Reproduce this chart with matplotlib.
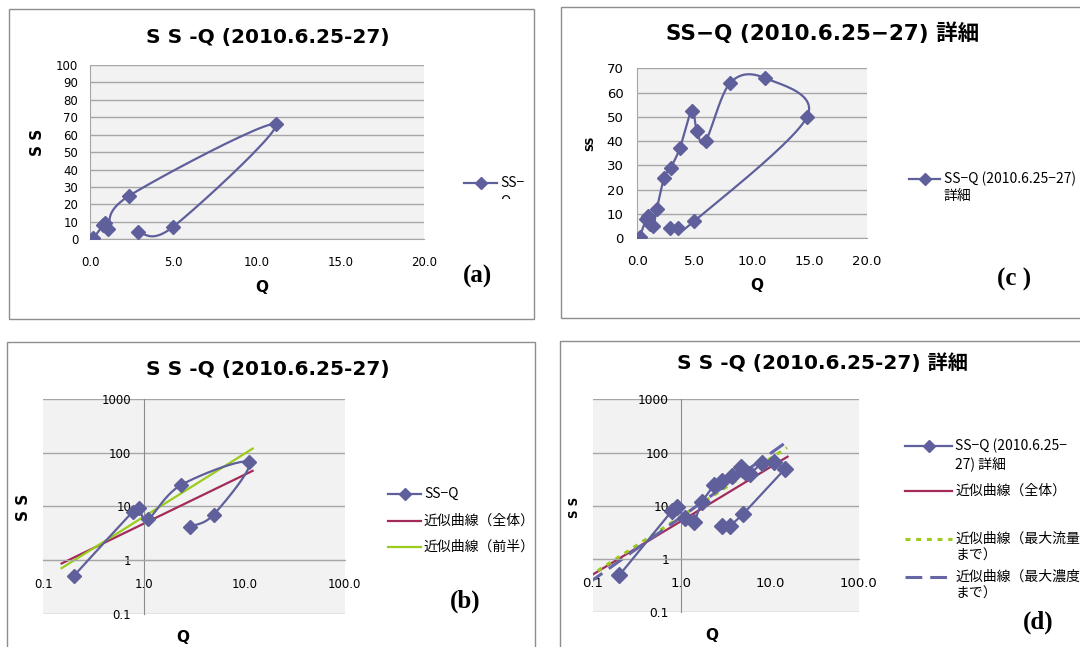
import numpy as np
import matplotlib
matplotlib.use('Agg')
import matplotlib.pyplot as plt
from matplotlib.lines import Line2D
from matplotlib.patches import Rectangle
from matplotlib.transforms import Affine2D, Bbox
import matplotlib.ticker as mticker

# ---------------- data ----------------
# (a)/(b): sampled SS-Q points (2010.6.25-27)
q_a = [0.2, 0.78, 0.9, 1.1, 2.35, 11.1, 4.95, 2.85]
ss_a = [0.5, 8.0, 9.3, 5.8, 25.0, 66.0, 7.0, 4.2]

# (c)/(d): detailed SS-Q points
q_c = [0.2, 0.78, 0.9, 1.1, 1.4, 1.7, 2.35, 2.9, 3.7, 4.75, 5.2, 5.95,
       8.1, 11.1, 14.8, 4.95, 3.55, 2.85]
ss_c = [0.5, 8.0, 9.3, 5.8, 5.0, 12.0, 25.0, 29.0, 37.0, 52.5, 44.0, 40.0,
        64.0, 66.0, 50.0, 7.0, 4.2, 4.2]

# index ranges used for trend fits
n_first_half_b = 6      # up to the SS maximum in (b)
n_to_max_flow = 15      # up to max Q in (d)
n_to_max_conc = 14      # up to max SS in (d)

# x extents of the drawn trend lines
trend_ext_b = (0.152, 12.1)
trend_ext_d_all = (0.09, 15.7)
trend_ext_d_flow = (0.09, 15.5)
trend_ext_d_conc = (0.09, 14.4)

lin_xticks = [0, 5, 10, 15, 20]
lin_yticks_a = list(range(0, 101, 10))
lin_yticks_c = list(range(0, 71, 10))
log_xticks = [0.1, 1, 10, 100]
log_yticks = [0.1, 1, 10, 100, 1000]

# ---------------- style ----------------
W, H = 1080, 647
plt.rcParams['font.family'] = ['DejaVu Sans', 'Noto Sans CJK JP']
JP = ['Noto Sans CJK JP', 'DejaVu Sans']
C_SER = '#5F5F9C'
C_RED = '#A32B5B'
C_GRN = '#9BCB1C'
C_GRID = '#A6A6A6'
C_BG = '#F2F2F2'
C_BORDER = '#8E8E8E'

fig = plt.figure(figsize=(W / 100, H / 100), dpi=100)
PX = Affine2D().scale(1 / W, -1 / H).translate(0, 1) + fig.transFigure


def add_ax(x0, y0, x1, y1):
    return fig.add_axes([x0 / W, 1 - y1 / H, (x1 - x0) / W, (y1 - y0) / H])


def txt(x, y, s, **kw):
    kw.setdefault('ha', 'center')
    kw.setdefault('va', 'center')
    return fig.text(x, y, s, transform=PX, **kw)


def border(x0, y0, x1, y1):
    fig.patches.append(Rectangle((x0, y0), x1 - x0, y1 - y0, transform=PX,
                                 fill=False, edgecolor=C_BORDER, lw=1.0))


def smooth(x, y, n=24):
    P = np.column_stack([np.asarray(x, float), np.asarray(y, float)])
    P = np.vstack([P[0], P, P[-1]])
    out = []
    t = np.linspace(0, 1, n, endpoint=False)[:, None]
    for i in range(1, len(P) - 2):
        p0, p1, p2, p3 = P[i - 1], P[i], P[i + 1], P[i + 2]
        c = 0.5 * ((2 * p1) + (-p0 + p2) * t + (2 * p0 - 5 * p1 + 4 * p2 - p3) * t ** 2
                   + (-p0 + 3 * p1 - 3 * p2 + p3) * t ** 3)
        out.append(c)
    out.append(P[-2][None])
    return np.vstack(out)


def power_fit(q, ss):
    b, a = np.polyfit(np.log10(q), np.log10(ss), 1)
    return a, b


def trend(ax, q, ss, ext, **kw):
    a, b = power_fit(q, ss)
    xs = np.geomspace(ext[0], ext[1], 50)
    ax.plot(xs, 10 ** a * xs ** b, **kw)


def style_lin(ax, xl, yl, yticks, fs, ypad, xpad):
    ax.set_facecolor(C_BG)
    ax.set_xlim(*xl)
    ax.set_ylim(*yl)
    ax.set_xticks(lin_xticks)
    ax.set_yticks(yticks)
    ax.xaxis.set_major_formatter(mticker.FormatStrFormatter('%.1f'))
    ax.yaxis.grid(True, color=C_GRID, lw=1.0)
    ax.set_axisbelow(True)
    for s in ('top', 'right'):
        ax.spines[s].set_visible(False)
    for s in ('left', 'bottom'):
        ax.spines[s].set_color(C_GRID)
    ax.tick_params(axis='y', length=0, labelsize=fs, pad=ypad)
    ax.tick_params(axis='x', length=0, labelsize=fs, pad=xpad)


def style_log(ax, xfs, yfs):
    ax.set_facecolor(C_BG)
    ax.set_xscale('log')
    ax.set_yscale('log')
    ax.set_xlim(0.1, 100)
    ax.set_ylim(0.1, 1000)
    ax.set_xticks(log_xticks)
    ax.set_yticks(log_yticks)
    ax.xaxis.set_minor_locator(mticker.NullLocator())
    ax.yaxis.set_minor_locator(mticker.NullLocator())
    ax.xaxis.set_major_formatter(mticker.FormatStrFormatter('%.1f'))
    ax.yaxis.set_major_formatter(mticker.FuncFormatter(lambda v, p: '%g' % v))
    ax.yaxis.grid(True, color=C_GRID, lw=1.0)
    ax.set_axisbelow(True)
    for s in ('top', 'right'):
        ax.spines[s].set_visible(False)
    ax.spines['left'].set_position(('data', 1.0))
    ax.spines['bottom'].set_position(('data', 1.0))
    ax.spines['left'].set_color('#8C8C8C')
    ax.spines['bottom'].set_color(C_GRID)
    ax.tick_params(axis='y', length=0, labelsize=yfs, pad=9)
    ax.tick_params(axis='x', length=0, labelsize=xfs, pad=13)
    for lab in ax.get_xticklabels() + ax.get_yticklabels():
        lab.set_clip_on(False)


def series(ax, q, ss, smooth_on=True, log=False, ms=7.5):
    if smooth_on:
        if log:
            sm = 10 ** smooth(np.log10(q), np.log10(ss))
        else:
            sm = smooth(q, ss)
        ax.plot(sm[:, 0], sm[:, 1], color=C_SER, lw=1.6, zorder=3)
    else:
        ax.plot(q, ss, color=C_SER, lw=1.6, zorder=3)
    ax.plot(q, ss, ls='none', marker='D', ms=ms, color=C_SER, zorder=4)


# ---------------- borders ----------------
border(8.6, 8.7, 534, 319)
border(561.4, 7.3, 1090, 318.3)
border(6.9, 341.7, 534.5, 660)
border(560, 340.7, 1090, 660)

TFS = 14.5
LFS = 10
PFS = 18
# ---------------- (a) ----------------
axA = add_ax(90, 65, 424.3, 239.3)
style_lin(axA, (0, 20), (0, 100), lin_yticks_a, 8.5, 8.5, 12)
series(axA, q_a, ss_a)
txt(268, 38, 'S S -Q (2010.6.25-27)', fontsize=TFS, fontweight='bold')
txt(262, 287, 'Q', fontsize=11, fontweight='bold')
txt(37, 142, 'S S', fontsize=11, fontweight='bold', rotation=90)
txt(477.6, 276, '(a)', fontsize=PFS, fontweight='bold', family='Liberation Serif')
fig.add_artist(Line2D([464, 497], [183, 183], transform=PX, color=C_SER, lw=1.6))
fig.add_artist(Line2D([480.5], [183], transform=PX, color=C_SER, marker='D', ms=6))
txt(500, 183, 'SS−', fontsize=LFS, ha='left', family=JP)
tq = txt(500, 202, 'Q', fontsize=LFS, ha='left', family=JP)
tq.set_clip_box(Bbox.from_extents(480, H - 199, 540, H - 180))
tq.set_clip_on(True)

# ---------------- (c) ----------------
axC = add_ax(637.3, 68.3, 866.7, 238.3)
style_lin(axC, (0, 20), (0, 70), lin_yticks_c, 9.5, 10, 12)
series(axC, q_c, ss_c)
txt(823, 33, 'SS−Q (2010.6.25−27) 詳細', fontsize=15.5, fontweight='bold')
txt(757, 285, 'Q', fontsize=11, fontweight='bold')
txt(590, 143, 'SS', fontsize=8, fontweight='bold', rotation=90)
txt(1014, 279, '(c )', fontsize=PFS, fontweight='bold', family='Liberation Serif')
fig.add_artist(Line2D([909, 940], [179, 179], transform=PX, color=C_SER, lw=1.6))
fig.add_artist(Line2D([924.5], [179], transform=PX, color=C_SER, marker='D', ms=6))
txt(944, 179, 'SS−Q (2010.6.25−27)', fontsize=LFS, ha='left', family=JP)
txt(944, 196, '詳細', fontsize=LFS, ha='left', family=JP)

# ---------------- (b) ----------------
axB = add_ax(43.3, 399, 344.8, 613.7)
style_log(axB, 8.5, 8.5)
series(axB, q_a, ss_a, log=True, ms=7)
trend(axB, q_a, ss_a, trend_ext_b, color=C_RED, lw=1.6, zorder=2)
trend(axB, q_a[:n_first_half_b], ss_a[:n_first_half_b], trend_ext_b,
      color=C_GRN, lw=1.6, zorder=2)
txt(268, 370, 'S S -Q (2010.6.25-27)', fontsize=TFS, fontweight='bold')
txt(183, 638, 'Q', fontsize=11, fontweight='bold')
txt(24, 507, 'S S', fontsize=11, fontweight='bold', rotation=90)
txt(465.5, 601, '(b)', fontsize=PFS, fontweight='bold', family='Liberation Serif')
fig.add_artist(Line2D([388, 421], [494, 494], transform=PX, color=C_SER, lw=1.6))
fig.add_artist(Line2D([404.5], [494], transform=PX, color=C_SER, marker='D', ms=6))
txt(424, 494, 'SS−Q', fontsize=LFS, ha='left', family=JP)
fig.add_artist(Line2D([388, 421], [521, 521], transform=PX, color=C_RED, lw=1.6))
txt(424, 521, '近似曲線（全体）', fontsize=LFS, ha='left', family=JP)
fig.add_artist(Line2D([388, 421], [546.7, 546.7], transform=PX, color=C_GRN, lw=1.6))
txt(424, 546.7, '近似曲線（前半）', fontsize=LFS, ha='left', family=JP)

# ---------------- (d) ----------------
axD = add_ax(592.7, 399.3, 858.9, 612.3)
style_log(axD, 9.5, 8.8)
series(axD, q_c, ss_c, smooth_on=False, ms=8.5)
trend(axD, q_c, ss_c, trend_ext_d_all, color=C_RED, lw=1.6, zorder=2)
trend(axD, q_c[:n_to_max_flow], ss_c[:n_to_max_flow], trend_ext_d_flow,
      color=C_GRN, lw=2.2, ls=(0, (1.6, 1.9)), zorder=2)
trend(axD, q_c[:n_to_max_conc], ss_c[:n_to_max_conc], trend_ext_d_conc,
      color='#6666A6', lw=2.2, ls=(0, (5.5, 2.6)), zorder=2)
txt(822, 363, 'S S -Q (2010.6.25-27) 詳細', fontsize=TFS, fontweight='bold')
txt(712, 635, 'Q', fontsize=11, fontweight='bold')
txt(574.5, 507, 'S S', fontsize=8.5, fontweight='bold', rotation=90)
txt(1038, 622, '(d)', fontsize=PFS, fontweight='bold', family='Liberation Serif')
fig.add_artist(Line2D([905, 951.7], [445.7, 445.7], transform=PX, color=C_SER, lw=1.6))
fig.add_artist(Line2D([929], [445.7], transform=PX, color=C_SER, marker='D', ms=6))
txt(955, 445.7, 'SS−Q (2010.6.25−', fontsize=LFS, ha='left', family=JP)
txt(955, 463.3, '27) 詳細', fontsize=LFS, ha='left', family=JP)
fig.add_artist(Line2D([905, 951.7], [490.7, 490.7], transform=PX, color=C_RED, lw=1.6))
txt(955, 490.7, '近似曲線（全体）', fontsize=LFS, ha='left', family=JP)
fig.add_artist(Line2D([905, 951.7], [538.7, 538.7], transform=PX, color=C_GRN, lw=2.2,
                      ls=(0, (1.6, 1.9))))
txt(955, 538.7, '近似曲線（最大流量', fontsize=LFS, ha='left', family=JP)
txt(955, 556, 'まで）', fontsize=LFS, ha='left', family=JP)
fig.add_artist(Line2D([905, 951.7], [576.7, 576.7], transform=PX, color='#6666A6', lw=2.2,
                      ls=(0, (5.5, 2.6))))
txt(955, 576.7, '近似曲線（最大濃度', fontsize=LFS, ha='left', family=JP)
txt(955, 593.3, 'まで）', fontsize=LFS, ha='left', family=JP)

fig.savefig('out.png', dpi=100, facecolor='white')
